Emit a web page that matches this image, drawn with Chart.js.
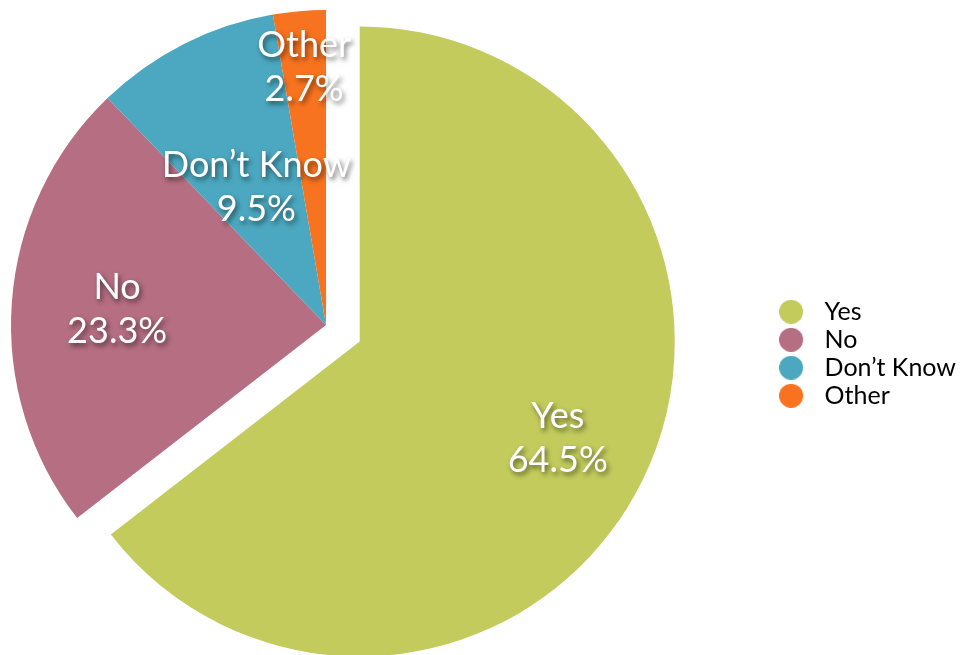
<!DOCTYPE html>
<html>
<head>
<meta charset="utf-8">
<script src="https://cdn.jsdelivr.net/npm/chart.js@4.4.0/dist/chart.umd.min.js"></script>
<style>
	html, body { margin: 0; padding: 0; background: #fff; overflow: hidden; }
	/* canvas runs past the left edge so the pie centre lands where it should */
	#wrap { width: 1090px; height: 655px; margin-left: -124px; }
</style>
</head>
<body>
<div id="wrap"><canvas id="pie"></canvas></div>
<script>
const categories = ['Yes', 'No', 'Don\u2019t Know', 'Other']
const shares = [64.5, 23.3, 9.5, 2.7]
const colors = ['#c2cb5c', '#b56e82', '#4ba8c0', '#f8731f']
//pixels each slice is pulled out along its middle angle
const explode = [37.5, 0, 0, 0]
//how far out along the radius each slice label sits
const labelDepth = [0.7, 0.665, 0.49, 0.82]

Chart.defaults.font.family = 'Lato, "Open Sans", sans-serif'

//legend dot with some room after it so the text sits further right
const dot = color => {
	const c = document.createElement('canvas')
	c.width = 33
	c.height = 24
	const g = c.getContext('2d')
	g.fillStyle = color
	g.beginPath()
	g.arc(12, 12, 12, 0, Math.PI * 2)
	g.fill()
	return c
}

//the built in offset also grows big slices, so just move the slice instead
const explodeSlices = {
	id: 'explodeSlices',
	afterDatasetUpdate: (chart, args) => {
		args.meta.data.forEach((arc, i) => {
			const mid = (arc.startAngle + arc.endAngle) / 2
			arc.x += Math.cos(mid) * explode[i]
			arc.y += Math.sin(mid) * explode[i]
		})
	},
}

//white labels with a soft shadow inside each slice
const sliceLabels = {
	id: 'sliceLabels',
	afterDatasetsDraw: chart => {
		const ctx = chart.ctx
		const meta = chart.getDatasetMeta(0)

		meta.data.forEach((arc, i) => {
			const mid = (arc.startAngle + arc.endAngle) / 2
			const r = arc.outerRadius * labelDepth[i]
			const x = arc.x + Math.cos(mid) * r
			const y = arc.y + Math.sin(mid) * r

			ctx.save()
			ctx.font = '36px Lato, "Open Sans", sans-serif'
			ctx.fillStyle = '#fff'
			ctx.textAlign = 'center'
			ctx.textBaseline = 'middle'
			ctx.shadowColor = 'rgba(0, 0, 0, 0.55)'
			ctx.shadowOffsetX = 2
			ctx.shadowOffsetY = 3
			ctx.shadowBlur = 5
			ctx.fillText(categories[i], x, y - 22)
			ctx.fillText(`${shares[i].toFixed(1)}%`, x, y + 22)
			ctx.restore()
		})
	},
}

const ctx = document.querySelector('#pie').getContext('2d')

const chart = new Chart(ctx, {
	type: 'pie',
	data: {
		labels: categories,
		datasets: [
			{
				data: shares,
				backgroundColor: colors,
				borderWidth: 0,
				hoverOffset: 0,
				radius: 315,
			},
		],
	},
	options: {
		responsive: true,
		maintainAspectRatio: false,
		animation: false,
		events: [],
		layout: {
			padding: { left: 0, right: 0, top: 0, bottom: 5 },
		},
		plugins: {
			tooltip: { enabled: false },
			legend: {
				position: 'right',
				title: {
					display: true,
					text: '',
					font: { size: 12 },
					padding: { top: 43, bottom: 0 },
				},
				labels: {
					usePointStyle: true,
					pointStyleWidth: 33,
					boxHeight: 17,
					padding: 3,
					color: '#000',
					font: { size: 25 },
					generateLabels: c =>
						Chart.overrides.pie.plugins.legend.labels
							.generateLabels(c)
							.map((item, i) => ({ ...item, pointStyle: dot(colors[i]) })),
				},
			},
		},
	},
	plugins: [explodeSlices, sliceLabels],
})
</script>
</body>
</html>
